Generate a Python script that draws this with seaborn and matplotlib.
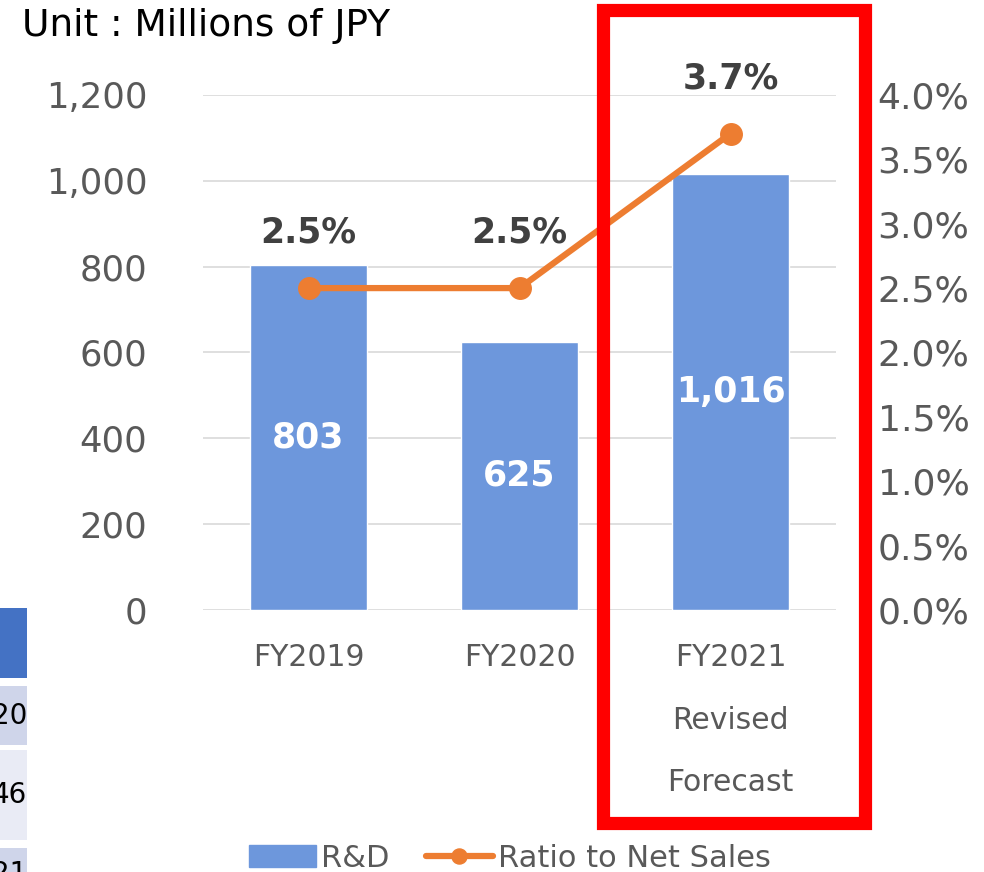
import numpy as np
import seaborn as sns
import matplotlib.pyplot as plt
from matplotlib.patches import Rectangle
from matplotlib.ticker import FuncFormatter, MultipleLocator

categories = ['FY2019', 'FY2020', 'FY2021\nRevised\nForecast']
rd_spend = [803, 625, 1016]
ratio_to_sales = [0.025, 0.025, 0.037]
table_cells = ['20', '46', '21']

sns.set_style('white')
plt.rcParams['font.family'] = ['DejaVu Sans']

bar_color = '#6d97dc'
line_color = '#ed7d31'
text_grey = '#595959'

fig = plt.figure(figsize=(9.84, 8.72), dpi=100)
ax = fig.add_axes([0.2063, 0.3005, 0.6433, 0.5906])

sns.barplot(x=list(range(len(categories))), y=rd_spend, color=bar_color,
            width=0.55, saturation=1, ax=ax)
ax.bar_label(ax.containers[0], labels=[f'{v:,}' for v in rd_spend],
             label_type='center', color='white', fontsize=25, fontweight='bold')

ax.set_ylim(0, 1200)
ax.yaxis.set_major_locator(MultipleLocator(200))
ax.yaxis.set_major_formatter(FuncFormatter(lambda v, p: f'{v:,.0f}'))
ax.set_xlim(-0.5, len(categories) - 0.5)
ax.set_xticks(range(len(categories)))
ax.set_xticklabels(categories, linespacing=2.45)
ax.grid(axis='y', color='#d9d9d9', linewidth=1.2)
ax.set_axisbelow(True)
ax.tick_params(axis='y', length=0, pad=40, labelsize=25.5, labelcolor=text_grey)
ax.tick_params(axis='x', length=0, pad=24, labelsize=21.5, labelcolor=text_grey)
for s in ax.spines.values():
    s.set_visible(False)

ax2 = ax.twinx()
x_pos = np.arange(len(categories))
ax2.plot(x_pos, ratio_to_sales, color=line_color, linewidth=4.5,
         marker='o', markersize=15.5, label='Ratio to Net Sales')
ax2.set_ylim(0, 0.04)
ax2.yaxis.set_major_locator(MultipleLocator(0.005))
ax2.yaxis.set_major_formatter(FuncFormatter(lambda v, p: f'{v * 100:.1f}%'))
ax2.tick_params(axis='y', length=0, pad=30, labelsize=26, labelcolor=text_grey)
for s in ax2.spines.values():
    s.set_visible(False)
for x, r in zip(x_pos, ratio_to_sales):
    ax2.annotate(f'{r * 100:.1f}%', (x, r), xytext=(0, 40), textcoords='offset points',
                 ha='center', va='center', fontsize=25, fontweight='bold', color='#404040')

fig.text(22 / 984, 1 - 26 / 872, 'Unit : Millions of JPY', fontsize=27,
         color='black', ha='left', va='center')

# highlight box around the forecast year
fig.patches.append(Rectangle((603 / 984, 1 - 823 / 872), 262 / 984, 813 / 872,
                             transform=fig.transFigure, fill=False,
                             edgecolor='#ff0000', linewidth=9.5))

# clipped table at the left edge
cell_rows = [(608, 678, '#4472c4', None), (686, 745, '#cfd5ea', table_cells[0]),
             (750, 840, '#e9ebf5', table_cells[1]), (848, 900, '#cfd5ea', table_cells[2])]
for top, bottom, col, txt in cell_rows:
    fig.patches.append(Rectangle((0, 1 - bottom / 872), 27 / 984, (bottom - top) / 872,
                                 transform=fig.transFigure, color=col, linewidth=0))
    if txt:
        fig.text(27 / 984, 1 - (top + bottom) / 2 / 872, txt, fontsize=20,
                 ha='right', va='center', color='black')

bar_handle = Rectangle((0, 0), 1, 1, color=bar_color)
line_handle = ax2.get_lines()[0]
fig.legend([bar_handle, line_handle], ['R&D', 'Ratio to Net Sales'],
           loc='center', bbox_to_anchor=(0.518, 14 / 872), ncol=2, frameon=False,
           fontsize=22, labelcolor=text_grey, handlelength=2.2, handleheight=0.7,
           columnspacing=1.2, handletextpad=0.15, markerscale=0.7)

fig.savefig('out.png', dpi=100)
